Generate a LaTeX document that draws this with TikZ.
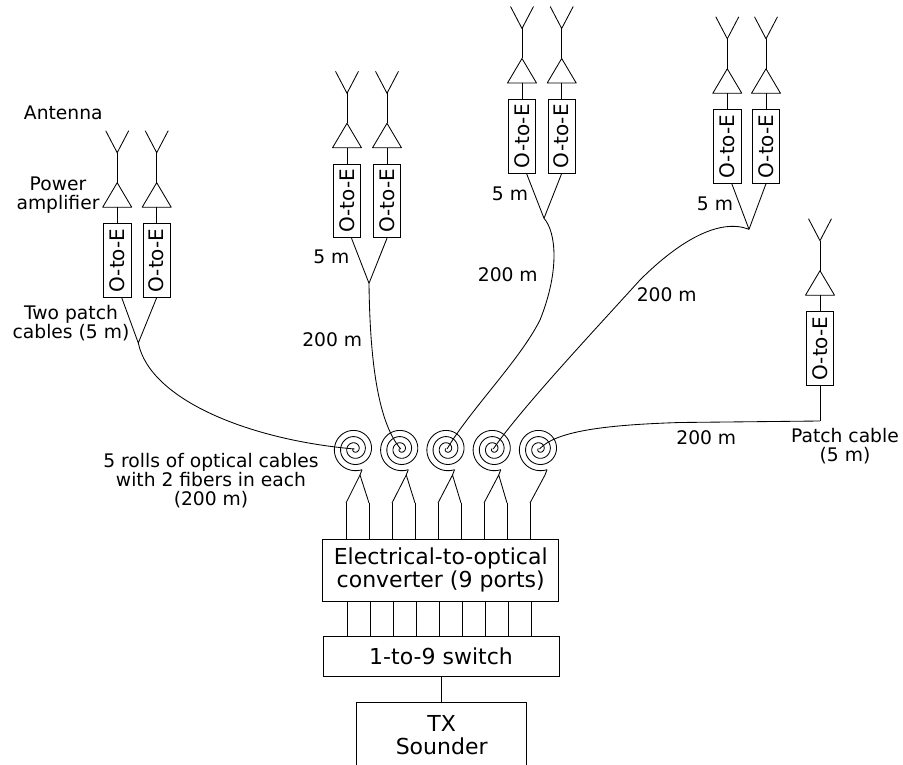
\documentclass[tikz,border=0pt]{standalone}
\usepackage{fontspec}
\setmainfont{DejaVu Sans}
\usepackage{graphicx}
\newcommand\antcol[3]{%
  \coordinate (#1-aj) at (#2,#3);
  \coordinate (#1-ap) at (#2,#3+30);
  \coordinate (#1-ab) at (#2,#3+54.5);
  \node[oebox] (#1) at (#2,#3+107.75) {\rotatebox{90}{O-to-E}};
  \draw[wire] (#1-aj) ++(-11.5,-22) -- (#1-aj) -- ++(11.5,-22);
  \draw[wire] (#1-aj) -- (#1-ap);
  \draw[wire] (#1-ap) -- ++(14.5,24.5) -- ++(-29,0) -- cycle;
  \draw[wire] (#1-ab) -- (#1.north);
}
\newcommand\fibroll[2]{%
  \coordinate (#1) at (#2,449);
  \draw[wire] plot[domain=-200:1010, samples=240, smooth, variable=\t]
    ({#2+(4.6+6.2*\t/360)*cos(\t)}, {449-(4.6+6.2*\t/360)*sin(\t)});
  \coordinate (#1-end) at ({#2+(4.6+6.2*1010/360)*cos(1010)}, {449-(4.6+6.2*1010/360)*sin(1010)});
  \coordinate (#1-apex) at (#2+5.5,475);
  \draw[wire] (#1-end) -- (#1-apex);
}
\begin{document}
\begin{tikzpicture}[x=1pt,y=-1pt,
  wire/.style={line width=0.85pt, line join=round},
  oebox/.style={draw, line width=0.85pt, minimum width=27.5pt, minimum height=73.5pt, inner sep=0pt, font=\fontsize{20}{22}\selectfont},
  lbl/.style={inner sep=0pt, font=\fontsize{18.7}{19}\selectfont, align=center},
  bigbox/.style={draw, line width=0.85pt, inner sep=0pt, align=center, font=\fontsize{22}{22.7}\selectfont},
]
\useasboundingbox (0,0) rectangle (903,765);

% antenna columns
\antcol{a1}{117.2}{152.7}
\antcol{a2}{156.7}{152.7}
\antcol{b1}{347}{93.3}
\antcol{b2}{387}{93.3}
\antcol{c1}{522}{28.5}
\antcol{c2}{561.7}{28.5}
\antcol{d1}{727.3}{38.8}
\antcol{d2}{766}{38.8}
\antcol{e1}{820}{240.7}

% fiber rolls
\fibroll{r1}{354.5}
\fibroll{r2}{400.75}
\fibroll{r3}{447}
\fibroll{r4}{493.25}
\fibroll{r5}{539.5}

% boxes
\node[bigbox, minimum width=236pt, minimum height=61.7pt] (eo) at (440.7,570.2) {Electrical-to-optical\\converter (9 ports)};
\node[bigbox, minimum width=236pt, minimum height=39.3pt] (sw) at (441,656.3) {1-to-9 switch};
\node[bigbox, minimum width=170pt, minimum height=66pt] (tx) at (441.7,735) {TX\\Sounder};

% ports
\foreach \i in {0,...,8} {
  \coordinate (p\i) at (346+23*\i,503);
  \draw[wire] (p\i) -- (p\i |- eo.north);
  \draw[wire] ([xshift=1.5pt]p\i |- eo.south) -- ([xshift=1.5pt]p\i |- sw.north);
}
\draw[wire] (p0) -- (r1-apex) -- (p1);
\draw[wire] (p2) -- (r2-apex) -- (p3);
\draw[wire] (p4) -- (r3-apex) -- (p5);
\draw[wire] (p6) -- (r4-apex) -- (p7);
\draw[wire] (r5-apex) -- (p8);
\draw[wire] (sw.south) -- (sw.south |- tx.north);

% patch cables and 200 m fibers
\coordinate (j1) at (138.3,343);
\coordinate (j2) at (369,283.3);
\coordinate (j3) at (544,218.3);
\coordinate (j4) at (749,229.3);
\coordinate (j5) at (820,421);
\draw[wire] ([xshift=4.5pt]a1.south) -- (j1) -- (a2.south);
\draw[wire] ([xshift=4.5pt]b1.south) -- (j2) -- (b2.south);
\draw[wire] ([xshift=4.5pt]c1.south) -- (j3) -- (c2.south);
\draw[wire] ([xshift=4.5pt]d1.south) -- (j4) -- (d2.south);
\draw[wire] (e1.south) -- (j5);
\draw[wire] (j1) .. controls (150,400) and (250,440) .. (r1);
\draw[wire] (j2) .. controls (370,370) and (380,425) .. (r2);
\draw[wire] (j3) .. controls (556,232) and (560,270) .. (540,320) .. controls (520,360) and (470,410) .. (r3);
\draw[wire] (j4) .. controls (720,218) and (680,240) .. (640,280) .. controls (590,335) and (520,410) .. (r4);
\draw[wire] (j5) -- (680,422.5) .. controls (600,425) and (555,432) .. (r5);

% labels
\node[lbl] (lant) at (63.3,112.7) {Antenna};
\node[lbl] (lpa) at (58,195.2) {Power\\amplifier};
\node[lbl] (lpc) at (71,322.7) {Two patch\\cables (5 m)};
\node[lbl] (lrolls) at (211,480.6) {5 rolls of optical cables\\with 2 fibers in each\\(200 m)};
\node[lbl] (lb5) at (331.3,256.7) {5 m};
\node[lbl] (lb200) at (332.2,340) {200 m};
\node[lbl] (lc5) at (510,194.3) {5 m};
\node[lbl] (lc200) at (507.8,275) {200 m};
\node[lbl] (ld5) at (715,204) {5 m};
\node[lbl] (ld200) at (666.7,295) {200 m};
\node[lbl] (le200) at (706.3,437.3) {200 m};
\node[lbl] (lepc) at (845,445.7) {Patch cable\\(5 m)};
\end{tikzpicture}
\end{document}
